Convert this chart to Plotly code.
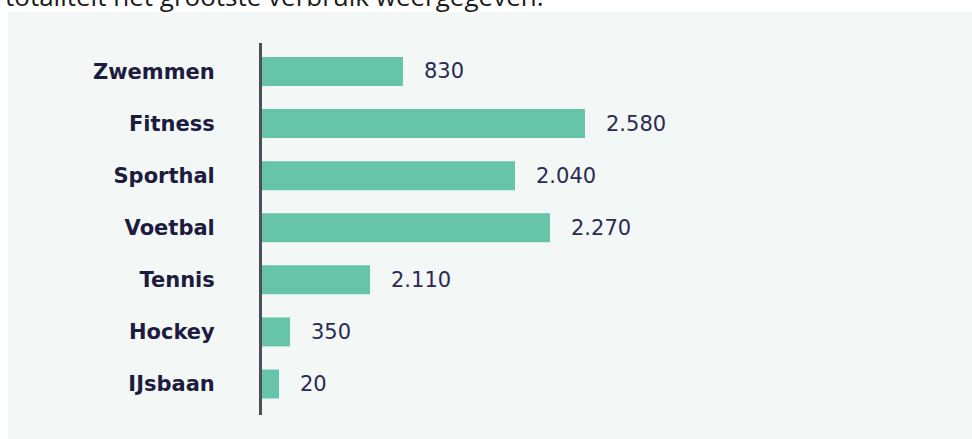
import plotly.graph_objects as go

categories = ["Zwemmen", "Fitness", "Sporthal", "Voetbal", "Tennis", "Hockey", "IJsbaan"]
bar_lengths = [1126, 2580, 2021, 2300, 863, 224, 136]   # bar lengths as drawn in the picture
value_labels = ["830", "2.580", "2.040", "2.270", "2.110", "350", "20"]
header_text = "totaliteit het grootste verbruik weergegeven."

BAR_COLOR = "#66c5a9"
PANEL = "#f3f8f6"
NAVY = "#1d1b40"

W, H = 972, 439
ML, MR, MT, MB = 262, 0, 43, 24
plot_w = W - ML - MR
plot_h = H - MT - MB
x_max = plot_w / (323 / 2580)

fig = go.Figure()
fig.add_trace(go.Bar(
    x=bar_lengths, y=categories, orientation="h",
    marker=dict(color=BAR_COLOR, line=dict(width=0)),
    width=0.557, hoverinfo="skip",
))

for cat, xv, lab in zip(categories, bar_lengths, value_labels):
    fig.add_annotation(
        x=xv, y=cat, xref="x", yref="y", text=lab, showarrow=False,
        xanchor="left", yanchor="middle", xshift=19,
        font=dict(family="DejaVu Sans", size=21, color="#2a2a52"),
    )

# header line (partly cropped at the top of the image, as in the source)
fig.add_annotation(
    xref="paper", yref="paper", x=(3 - ML) / plot_w, y=1 + (MT - 16) / plot_h,
    xanchor="left", yanchor="bottom", text=header_text, showarrow=False,
    font=dict(family="Open Sans", size=26, color="#1a1a1a"),
)

# light panel
fig.add_shape(
    type="rect", xref="paper", yref="paper", layer="below",
    x0=(8 - ML) / plot_w, x1=1.05, y0=-0.2, y1=1 + (MT - 12) / plot_h,
    fillcolor=PANEL, line=dict(width=0),
)

fig.update_layout(
    width=W, height=H,
    margin=dict(l=ML, r=MR, t=MT, b=MB, pad=0),
    paper_bgcolor="white", plot_bgcolor="rgba(0,0,0,0)",
    showlegend=False,
    xaxis=dict(visible=False, range=[0, x_max], fixedrange=True),
    yaxis=dict(
        type="category", categoryorder="array", categoryarray=categories,
        range=[6.595, -0.547], fixedrange=True,
        showline=True, linecolor="#4e4e5c", linewidth=3,
        showgrid=False, zeroline=False, ticks="", ticklen=0,
        ticklabelstandoff=40,
        tickfont=dict(family="DejaVu Sans", size=21, color=NAVY, weight="bold"),
    ),
    bargap=0.44,
)

fig.write_html(
    "out.html",
    config={"displayModeBar": False},
    post_script="document.body.style.margin='0';document.body.style.overflow='hidden';",
)
